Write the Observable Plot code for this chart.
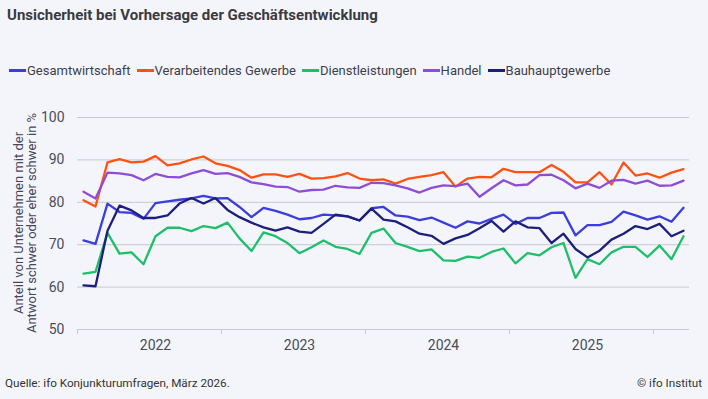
<!DOCTYPE html>
<html>
<head>
<meta charset="utf-8">
<script src="https://cdn.jsdelivr.net/npm/d3@7"></script>
<script src="https://cdn.jsdelivr.net/npm/@observablehq/plot@0.6"></script>
<style>
  html, body { margin: 0; padding: 0; background: #f4f5fa; }
  #wrap { position: relative; width: 708px; height: 399px; background: #f4f5fa; font-family: Roboto, "Noto Sans", sans-serif; color: #3d3f4c; overflow: hidden; }
  #chart { position: absolute; left: 0; top: 0; }
  #title { position: absolute; left: 7px; top: 6px; font-size: 15px; font-weight: bold; color: #3a3a3f; white-space: nowrap; }
  #legend { position: absolute; left: 9px; top: 63px; display: flex; gap: 6px; font-size: 13px; white-space: nowrap; }
  #legend .item { display: flex; align-items: center; }
  #legend .sw { display: inline-block; width: 17px; height: 3px; margin-right: 1px; }
  #ylabel { position: absolute; left: 25px; top: 223px; transform: translate(-50%, -50%) rotate(-90deg); font-size: 13px; line-height: 13px; text-align: center; white-space: nowrap; color: #44465a; }
  #source { position: absolute; left: 5px; top: 376px; font-size: 11.7px; color: #333; white-space: nowrap; }
  #copy { position: absolute; right: 6px; top: 376px; font-size: 11.7px; color: #333; white-space: nowrap; }
</style>
</head>
<body>
<div id="wrap">
  <div id="chart"></div>
  <div id="title"></div>
  <div id="legend"></div>
  <div id="ylabel"></div>
  <div id="source"></div>
  <div id="copy"></div>
</div>
<script>
// Series (monthly, Jan 2022 – Mar 2026)
const seriesNames = ["Gesamtwirtschaft", "Verarbeitendes Gewerbe", "Dienstleistungen", "Handel", "Bauhauptgewerbe"];
const seriesColors = ["#3b3ddc", "#ff5212", "#1ebf6a", "#8c4ed8", "#1c1f7c"];

const gesamtwirtschaft = [71.0, 70.2, 79.7, 77.7, 77.5, 76.1, 79.8, 80.2, 80.6, 80.9, 81.5, 80.9, 81.0,
  78.9, 76.5, 78.7, 78.0, 77.1, 76.0, 76.3, 77.1, 76.9, 76.7, 75.7, 78.6, 78.9,
  76.9, 76.6, 75.8, 76.4, 75.2, 74.0, 75.5, 75.0, 76.1, 77.1, 74.9, 76.3,
  76.3, 77.5, 77.6, 72.2, 74.6, 74.6, 75.4, 77.8, 76.9, 75.9, 76.7, 75.4, 78.7];

const verarbeitendesGewerbe = [80.5, 79.0, 89.4, 90.2, 89.4, 89.6, 90.9, 88.7, 89.2, 90.1, 90.8, 89.2, 88.6,
  87.6, 85.8, 86.6, 86.6, 86.0, 86.7, 85.6, 85.7, 86.1, 86.9, 85.6, 85.2, 85.4,
  84.4, 85.5, 86.0, 86.4, 87.1, 83.7, 85.6, 86.0, 85.9, 87.9, 87.1, 87.1,
  87.1, 88.8, 87.2, 84.7, 84.7, 87.1, 84.2, 89.4, 86.3, 86.8, 85.8, 87.0, 87.8];

const dienstleistungen = [63.2, 63.6, 72.8, 67.9, 68.2, 65.4, 72.0, 74.0, 74.0, 73.2, 74.4, 73.9, 75.2,
  71.5, 68.5, 72.9, 72.0, 70.4, 68.0, 69.4, 71.0, 69.5, 69.0, 67.8, 72.8, 73.8,
  70.4, 69.5, 68.5, 68.9, 66.3, 66.2, 67.2, 66.9, 68.3, 69.1, 65.6, 68.0,
  67.5, 69.4, 70.4, 62.2, 66.6, 65.4, 68.2, 69.5, 69.5, 67.1, 69.8, 66.6, 72.0];

const handel = [82.5, 80.9, 87.0, 86.8, 86.4, 85.2, 86.7, 86.0, 85.9, 86.8, 87.6, 86.7, 86.9,
  86.0, 84.7, 84.3, 83.7, 83.6, 82.5, 82.9, 83.0, 83.9, 83.5, 83.4, 84.6, 84.5,
  84.0, 83.3, 82.3, 83.4, 84.0, 83.8, 84.4, 81.3, 83.3, 85.2, 84.0, 84.2,
  86.4, 86.5, 85.2, 83.3, 84.4, 83.4, 85.1, 85.3, 84.4, 85.1, 83.9, 84.0, 85.1];

const bauhauptgewerbe = [60.4, 60.2, 73.3, 79.2, 78.1, 76.3, 76.3, 76.9, 79.7, 81.0, 79.7, 81.0, 78.2,
  76.5, 75.2, 74.1, 73.3, 74.1, 73.1, 72.8, 74.9, 77.1, 76.7, 75.7, 78.5, 75.9,
  75.5, 74.1, 72.6, 72.1, 70.2, 71.5, 72.3, 73.9, 75.6, 73.1, 75.5, 74.1,
  73.9, 70.4, 72.6, 69.0, 67.0, 68.6, 71.2, 72.6, 74.4, 73.7, 74.9, 72.0, 73.3];

const yearLabels = ["2022", "2023", "2024", "2025"];
const yTicks = [50, 60, 70, 80, 90, 100];

const titleText = "Unsicherheit bei Vorhersage der Geschäftsentwicklung";
const yLabelLines = ["Anteil von Unternehmen mit der", "Antwort schwer oder eher schwer in %"];
const sourceText = "Quelle: ifo Konjunkturumfragen, März 2026.";
const copyText = "© ifo Institut";

// Build table
const allSeries = [gesamtwirtschaft, verarbeitendesGewerbe, dienstleistungen, handel, bauhauptgewerbe];
const rows = [];
allSeries.forEach((vals, s) => vals.forEach((v, i) => rows.push({series: seriesNames[s], i, v})));
const nMonths = gesamtwirtschaft.length;
const yearBoundaries = d3.range(-0.5, nMonths, 12);          // January boundaries
const yearLabelPos = yearLabels.map((_, k) => k * 12 + 6);    // July of each year

const chart = Plot.plot({
  width: 708,
  height: 399,
  marginLeft: 77,
  marginRight: 19,
  marginTop: 117,
  marginBottom: 70,
  style: {background: "transparent", fontFamily: "Roboto, 'Noto Sans', sans-serif", fontSize: "14px", color: "#4a4c5c", overflow: "visible"},
  x: {type: "linear", domain: [-0.5, nMonths - 0.5]},
  y: {domain: [50, 100]},
  color: {domain: seriesNames, range: seriesColors},
  marks: [
    Plot.gridY(yTicks, {stroke: "#c8c9d1", strokeOpacity: 1, strokeWidth: 1}),
    Plot.axisY(yTicks, {tickSize: 0, tickPadding: 13, fontSize: 14, label: null}),
    Plot.axisX(yearBoundaries, {tickSize: 5, tickFormat: () => "", stroke: "#c8c9d1", strokeOpacity: 1, label: null}),
    Plot.axisX(yearLabelPos, {tickSize: 0, tickPadding: 11, fontSize: 14, tickFormat: d => yearLabels[yearLabelPos.indexOf(d)], label: null}),
    Plot.line(rows, {x: "i", y: "v", z: "series", stroke: "series", strokeWidth: 2.3, strokeLinejoin: "round", strokeLinecap: "round"})
  ]
});
document.getElementById("chart").appendChild(chart);

document.getElementById("title").textContent = titleText;
document.getElementById("source").textContent = sourceText;
document.getElementById("copy").textContent = copyText;
document.getElementById("ylabel").innerHTML = yLabelLines.join("<br>");

const legend = document.getElementById("legend");
seriesNames.forEach((name, k) => {
  const item = document.createElement("span");
  item.className = "item";
  const sw = document.createElement("span");
  sw.className = "sw";
  sw.style.background = seriesColors[k];
  const t = document.createElement("span");
  t.textContent = name;
  item.appendChild(sw);
  item.appendChild(t);
  legend.appendChild(item);
});
</script>
</body>
</html>
